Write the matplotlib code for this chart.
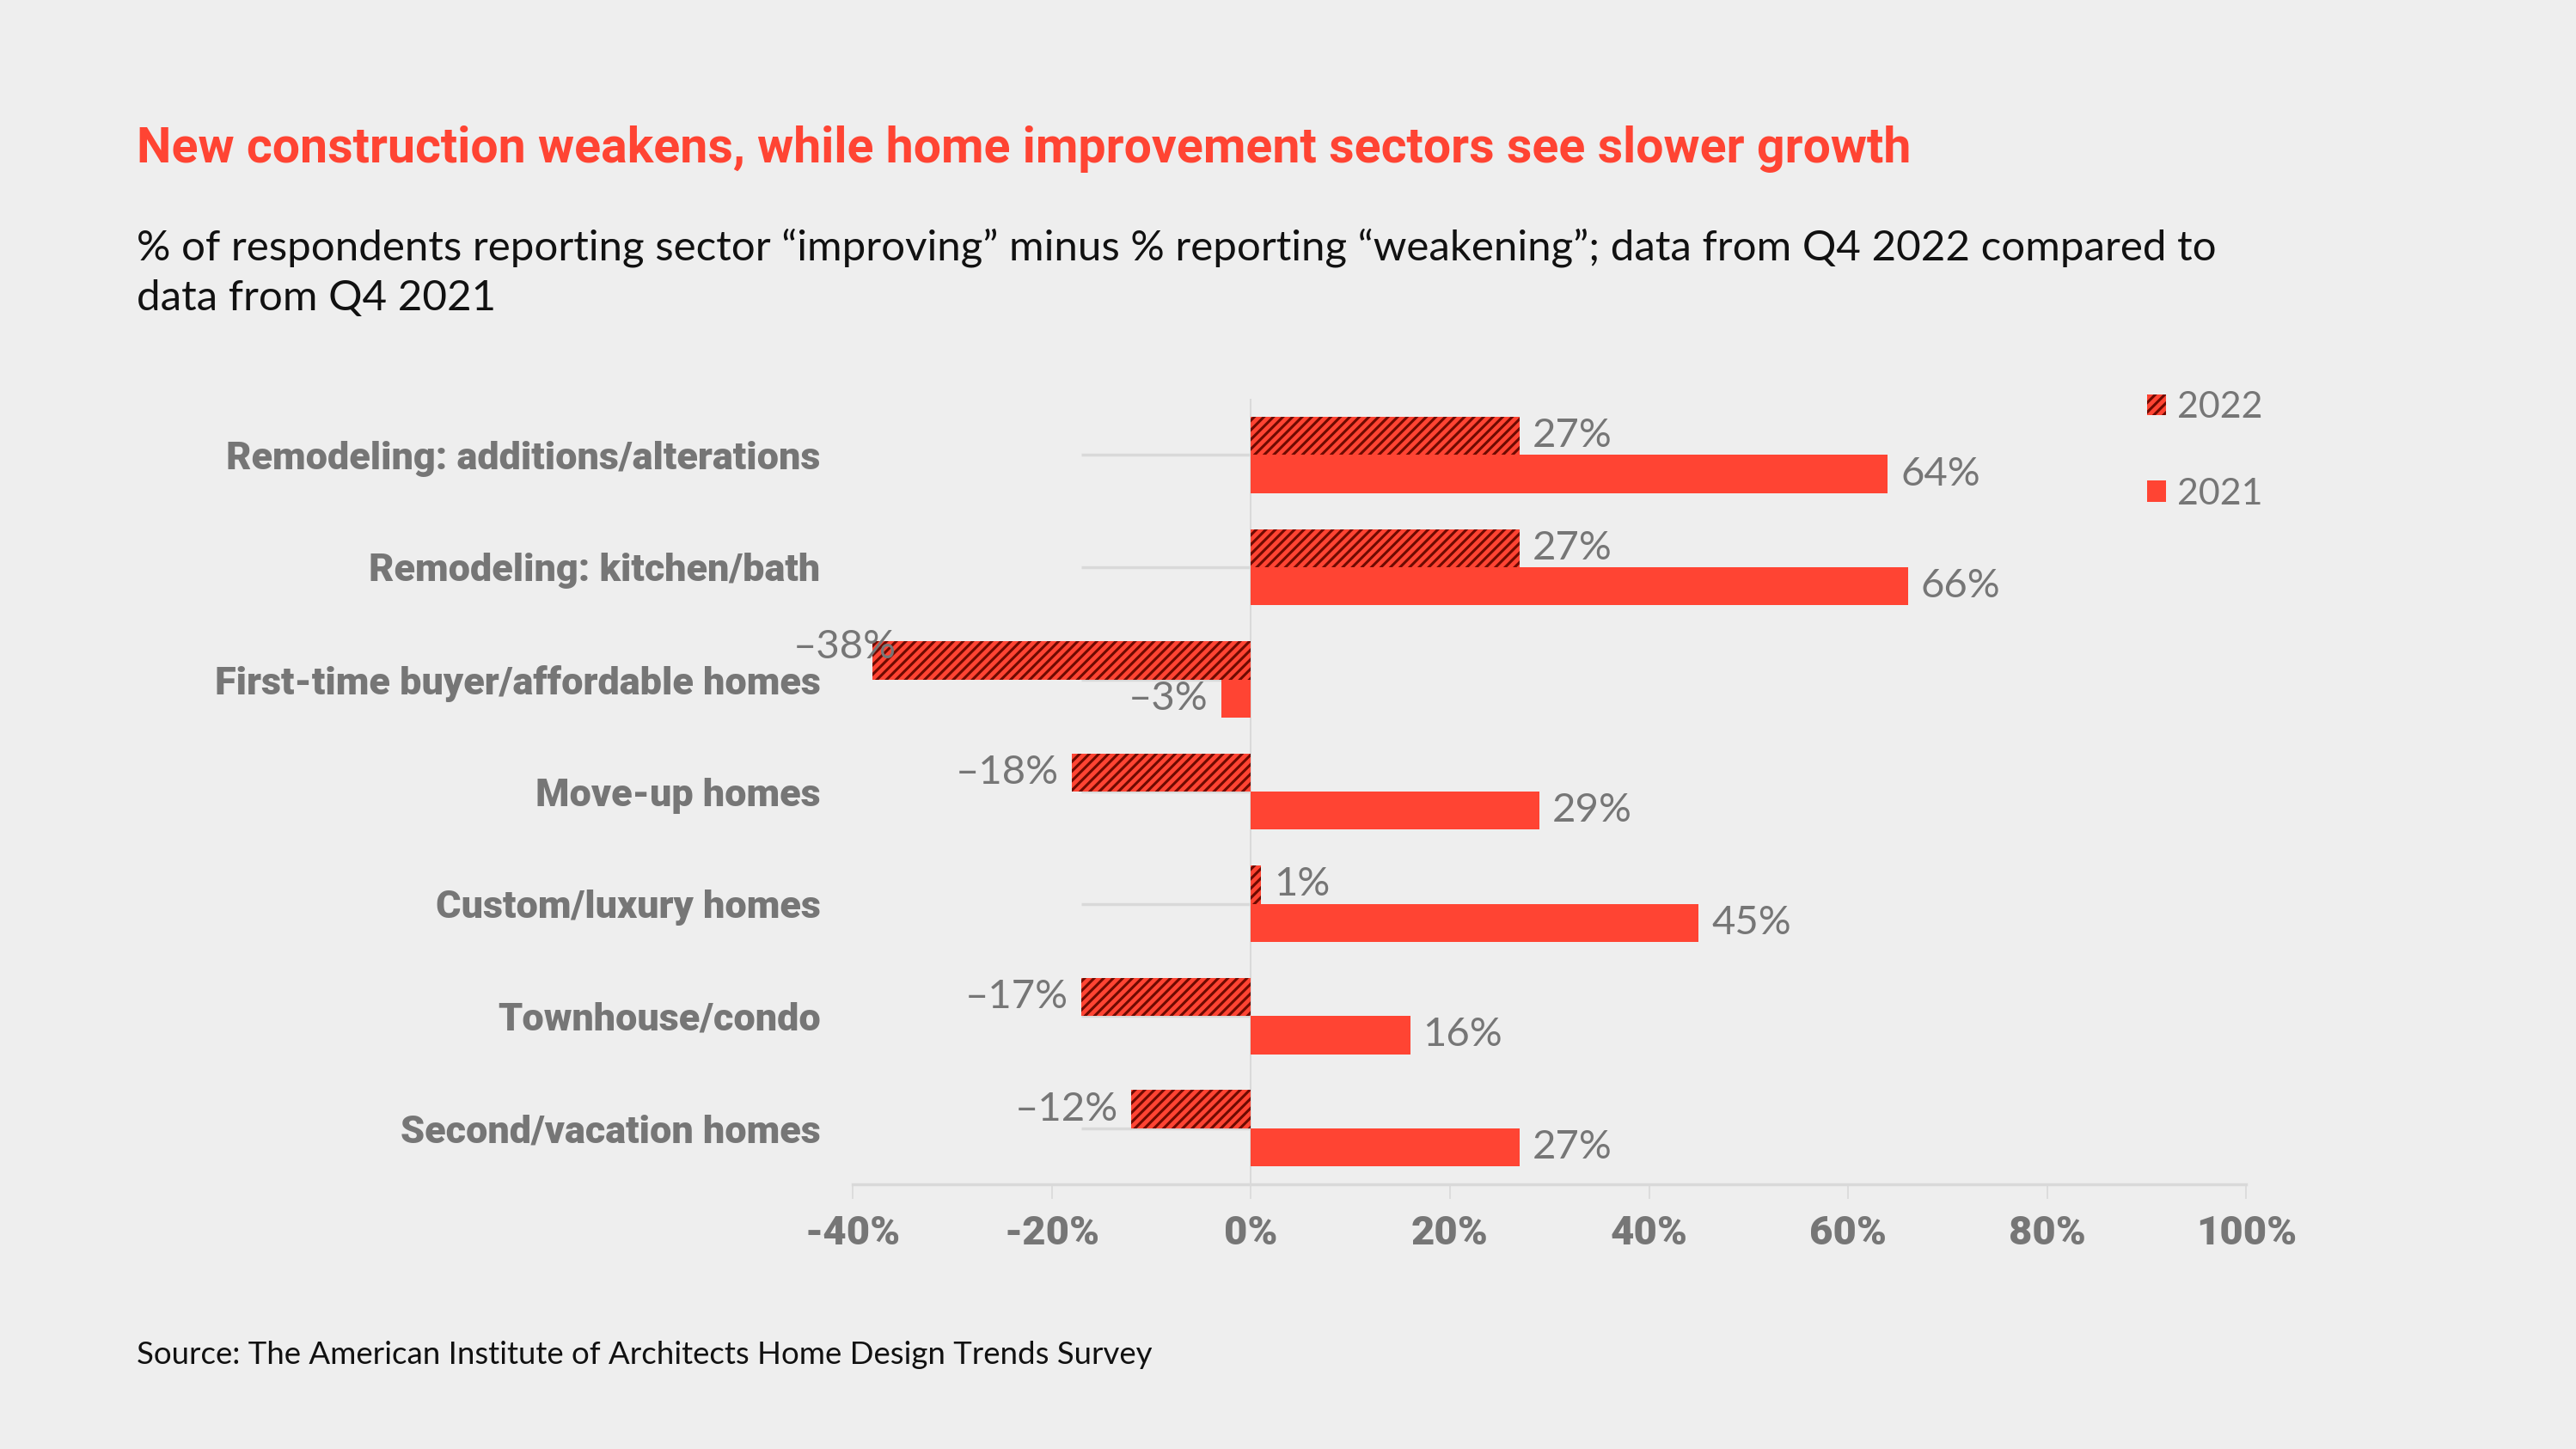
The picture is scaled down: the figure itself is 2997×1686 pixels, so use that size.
import matplotlib
matplotlib.use("Agg")
import matplotlib.pyplot as plt
import numpy as np

# -----------------------------
# DATA
# -----------------------------
categories = [
    "Remodeling: additions/alterations",
    "Remodeling: kitchen/bath",
    "First-time buyer/affordable homes",
    "Move-up homes",
    "Custom/luxury homes",
    "Townhouse/condo",
    "Second/vacation homes",
]
values_2022 = [27, 27, -38, -18, 1, -17, -12]
values_2021 = [64, 66, -3, 29, 45, 16, 27]
series_labels = ["2022", "2021"]
xticks = [-40, -20, 0, 20, 40, 60, 80, 100]

title = "New construction weakens, while home improvement sectors see slower growth"
subtitle = ("% of respondents reporting sector \u201cimproving\u201d minus % reporting \u201cweakening\u201d; "
            "data from Q4 2022 compared to\ndata from Q4 2021")
source = "Source: The American Institute of Architects Home Design Trends Survey"

# -----------------------------
# STYLE
# -----------------------------
BG = "#eeeeee"
RED = "#ff4433"
DARK = "#6e0a00"
GRAY = "#767676"
LINE = "#d9d9d9"
HEAVY = ["Roboto", "DejaVu Sans"]
BODY = ["Lato", "DejaVu Sans"]

plt.rcParams["hatch.linewidth"] = 2.2

fig = plt.figure(figsize=(29.97, 16.86), dpi=100, facecolor=BG)
ax = fig.add_axes([0.331, 0.1827, 0.541, 0.542], facecolor=BG)

y = np.arange(len(categories))
h = 0.34

# faint category lines (behind bars)
ax.hlines(y, -17, 0, color=LINE, lw=2.5, zorder=1)
ax.axvline(0, color=LINE, lw=1.5, zorder=1)

b22 = ax.barh(y - h / 2, values_2022, height=h, color=RED, edgecolor=DARK,
              hatch="///", linewidth=0, zorder=3, label=series_labels[0])
b21 = ax.barh(y + h / 2, values_2021, height=h, color=RED, linewidth=0,
              zorder=3, label=series_labels[1])

ax.set_xlim(-40, 100)
ax.set_ylim(len(categories) - 0.5, -0.5)

# value labels
neg_texts = []
for bars, vals in ((b22, values_2022), (b21, values_2021)):
    for bar, v in zip(bars, vals):
        yc = bar.get_y() + bar.get_height() / 2
        txt = f"{v}%" if v >= 0 else f"\u2013{abs(v)}%"
        if v >= 0:
            ax.text(v + 1.3, yc, txt, ha="left", va="center", fontsize=34,
                    color=GRAY, family=BODY, zorder=4)
        else:
            t = ax.text(v - 1.3, yc, txt, ha="right", va="center", fontsize=34,
                        color=GRAY, family=BODY, zorder=4)
            neg_texts.append(t)

ax.set_xticks(xticks)
ax.set_xticklabels([f"{t}%" for t in xticks], fontsize=34, fontweight="black",
                   color=GRAY, family=HEAVY)
ax.tick_params(axis="x", length=12, width=1.2, color=LINE, pad=13)

ax.set_yticks(y)
ax.set_yticklabels(categories, fontsize=32.4, fontweight="black", color=GRAY,
                   family=HEAVY)
ax.tick_params(axis="y", length=0, pad=27)

for s in ("top", "right", "left"):
    ax.spines[s].set_visible(False)
ax.spines["bottom"].set_color(LINE)
ax.spines["bottom"].set_linewidth(2.5)

# keep negative labels from running into the category names
fig.canvas.draw()
inv = ax.transData.inverted()
for t in neg_texts:
    bb = t.get_window_extent()
    left = inv.transform((bb.x0, bb.y0))[0]
    if left < -46:
        x, yc = t.get_position()
        t.set_position((-46, yc - 0.12))
        t.set_ha("left")

leg = ax.legend(handles=[b22, b21], loc="upper left",
                bbox_to_anchor=(0.905, 1.052), frameon=False,
                prop={"family": BODY, "size": 31}, labelcolor=GRAY,
                handlelength=0.5, handleheight=0.5, handletextpad=0.3,
                labelspacing=1.45)

fig.text(0.053, 0.897, title, fontsize=41.2, fontweight="bold", color=RED,
         family=HEAVY, va="center", ha="left")
fig.text(0.053, 0.8118, subtitle, fontsize=35.5, color="#111111", family=BODY,
         va="center", ha="left", linespacing=1.38)
fig.text(0.053, 0.0647, source, fontsize=26.4, color="#111111", family=BODY,
         va="center", ha="left")

fig.savefig("out.png", dpi=100, facecolor=BG)
